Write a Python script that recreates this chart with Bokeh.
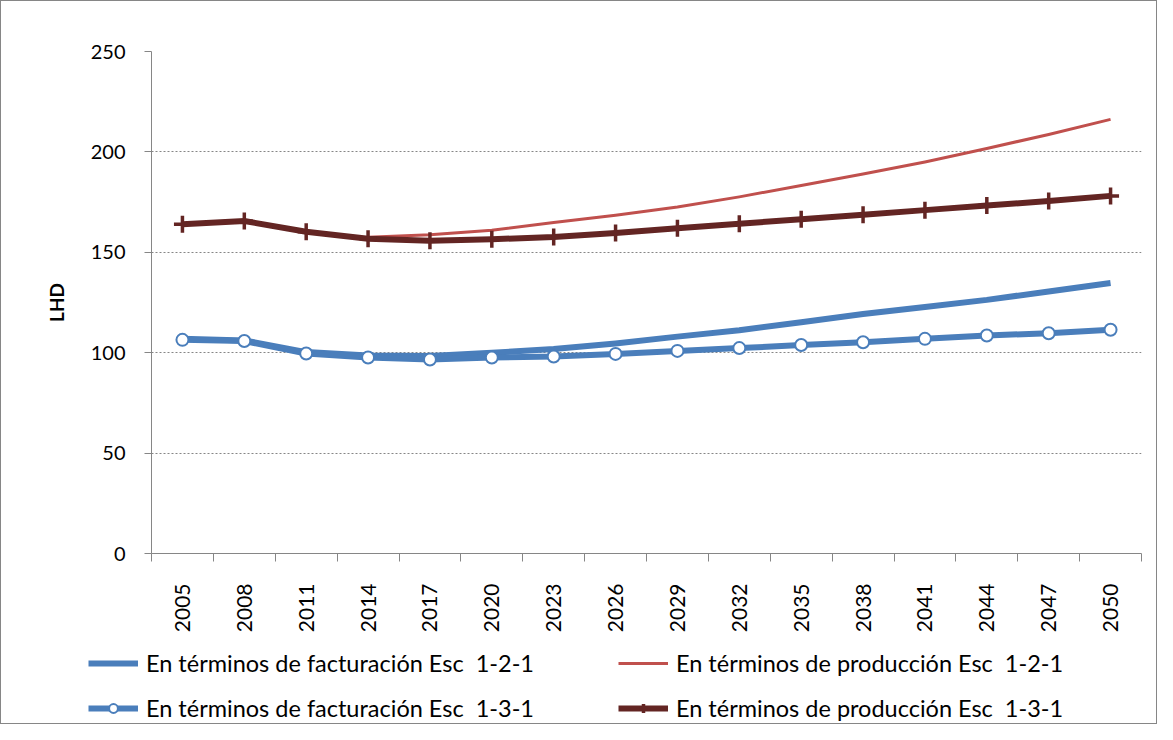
import numpy as np
from bokeh.plotting import figure
from bokeh.models import Range1d, FixedTicker, Legend, LegendItem
from bokeh.embed import file_html
from bokeh.resources import INLINE

years = [2005, 2008, 2011, 2014, 2017, 2020, 2023, 2026, 2029, 2032, 2035, 2038, 2041, 2044, 2047, 2050]
fact_121 = [106.9, 106.1, 100.3, 98.6, 98.3, 100.0, 101.8, 104.6, 108.0, 111.2, 115.2, 119.3, 122.8, 126.3, 130.5, 134.7]
prod_121 = [np.nan, np.nan, np.nan, 157.5, 158.8, 161.0, 164.8, 168.5, 172.6, 177.6, 183.3, 189.0, 195.0, 201.7, 208.7, 216.2]
fact_131 = [106.4, 105.8, 99.6, 97.6, 96.6, 97.6, 98.1, 99.4, 100.9, 102.3, 103.8, 105.2, 106.9, 108.6, 109.7, 111.4]
prod_131 = [164.0, 165.6, 160.2, 156.7, 155.8, 156.5, 157.6, 159.6, 162.0, 164.2, 166.5, 168.7, 171.0, 173.3, 175.5, 178.1]
y_ticks = [0, 50, 100, 150, 200, 250]
labels = ["En términos de facturación Esc  1-2-1", "En términos de producción Esc  1-2-1",
          "En términos de facturación Esc  1-3-1", "En términos de producción Esc  1-3-1"]

FONT = "Lato"
GRAY = "#868686"
BLUE = "#4A7EBB"
RED = "#C0504D"
DRED = "#632523"

n = len(years)
x = np.arange(n) + 0.5

W = 1157
p = figure(width=W, height=636, output_backend="svg", toolbar_location=None,
           x_range=Range1d(0, n), y_range=Range1d(0, 250),
           min_border_left=150, min_border_right=17, min_border_top=50, min_border_bottom=84)
p.outline_line_color = None
p.background_fill_color = "white"
p.border_fill_color = "white"
p.styles = {"border-top": "1px solid #868686", "border-left": "1px solid #868686",
            "border-right": "1px solid #868686", "box-sizing": "border-box"}

# axes
xa = p.xaxis[0]
xa.ticker = FixedTicker(ticks=list(x), minor_ticks=list(np.arange(n + 1)))
xa.major_label_overrides = {float(xx): str(yr) for xx, yr in zip(x, years)}
xa.major_label_orientation = np.pi / 2
xa.major_tick_line_color = None
xa.minor_tick_line_color = GRAY
xa.minor_tick_out = 8
xa.minor_tick_in = 0
xa.axis_line_color = GRAY
xa.major_label_text_font = FONT
xa.major_label_text_font_size = "21px"
xa.major_label_text_color = "black"
xa.major_label_standoff = 22

ya = p.yaxis[0]
ya.ticker = FixedTicker(ticks=y_ticks, minor_ticks=[])
ya.axis_line_color = GRAY
ya.major_tick_line_color = GRAY
ya.major_tick_out = 7
ya.major_tick_in = 0
ya.minor_tick_line_color = None
ya.major_label_text_font = FONT
ya.major_label_text_font_size = "20px"
ya.major_label_text_color = "black"
ya.major_label_standoff = 19
ya.axis_label = "LHD"
ya.axis_label_text_font = FONT
ya.axis_label_text_font_size = "19px"
ya.axis_label_text_font_style = "bold"
ya.axis_label_text_color = "black"
ya.axis_label_standoff = 20

p.xgrid.grid_line_color = None
p.ygrid.ticker = FixedTicker(ticks=y_ticks[1:])
p.ygrid.grid_line_color = GRAY
p.ygrid.grid_line_dash = "2 2"
p.ygrid.grid_line_width = 1

# series styles
s1 = dict(line_color=BLUE, line_width=6, line_join="round")
s2 = dict(line_color=RED, line_width=3, line_join="round")
s3 = dict(line_color=BLUE, line_width=6, line_join="round")
m3 = dict(marker="circle", size=12, fill_color="white", line_color=BLUE, line_width=2)
s4 = dict(line_color=DRED, line_width=6, line_join="round")
m4 = dict(marker="cross", size=17, line_color=DRED, line_width=3.5)

p.line(x, fact_121, **s1)
p.line(x, prod_121, **s2)
p.line(x, fact_131, **s3)
p.scatter(x, fact_131, **m3)
p.line(x, prod_131, **s4)
p.scatter(x, prod_131, **m4)

# legend strip: a separate root, so that its frame spans the full width.
# The same series are drawn there outside its visible range; only the legend shows.
lf = figure(width=W, height=88, output_backend="svg", toolbar_location=None,
            x_range=Range1d(0, n), y_range=Range1d(-2, -1),
            x_axis_location=None, y_axis_location=None,
            min_border_left=0, min_border_right=0, min_border_top=0, min_border_bottom=0)
lf.outline_line_color = None
lf.grid.grid_line_color = None
lf.background_fill_color = "white"
lf.border_fill_color = "white"
lf.styles = {"border-bottom": "1px solid #868686", "border-left": "1px solid #868686",
             "border-right": "1px solid #868686", "box-sizing": "border-box"}

r1 = lf.line(x, fact_121, **s1)
r2 = lf.line(x, prod_121, **s2)
r3 = lf.line(x, fact_131, **s3)
r3m = lf.scatter(x, fact_131, **m3)
r4 = lf.line(x, prod_131, **s4)
r4m = lf.scatter(x, prod_131, **m4)

# items ordered column by column so that rows read as in the reference
legend = Legend(items=[LegendItem(label=labels[0], renderers=[r1]),
                       LegendItem(label=labels[2], renderers=[r3, r3m]),
                       LegendItem(label=labels[1], renderers=[r2]),
                       LegendItem(label=labels[3], renderers=[r4, r4m])],
                ncols=2, location=(87, 2), padding=0, margin=0, spacing=17,
                glyph_width=50, glyph_height=22, label_height=22, label_width=455,
                label_standoff=8, label_text_font=FONT, label_text_font_size="23.5px",
                label_text_color="black", border_line_color=None, background_fill_alpha=0)
lf.add_layout(legend, "center")

open("out.html", "w").write(file_html([p, lf], INLINE))
